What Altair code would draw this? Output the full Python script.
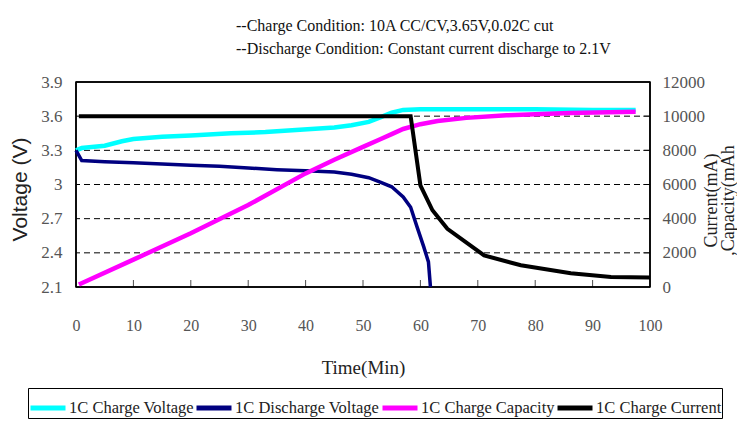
import altair as alt
import pandas as pd

# ---------------- data ----------------
series_names = ["1C Charge Voltage", "1C Discharge Voltage", "1C Charge Capacity", "1C Charge Current"]
series_colors = ["#00FFFF", "#000080", "#FF00FF", "#000000"]

cv_t = [0, 1, 5, 8, 10, 15, 20, 27, 33, 39, 45, 48, 51, 53, 55, 57, 60, 70, 80, 90, 97.5]
cv_v = [3.30, 3.32, 3.34, 3.38, 3.40, 3.42, 3.43, 3.45, 3.46, 3.48, 3.50, 3.52, 3.55, 3.59, 3.63, 3.655, 3.66, 3.66, 3.66, 3.655, 3.655]

dv_t = [0, 1, 5, 10, 15, 20, 25, 30, 35, 40, 45, 48, 51, 53, 55, 57, 58.3, 59.4, 60.6, 61.4, 61.75]
dv_v = [3.30, 3.21, 3.20, 3.19, 3.18, 3.17, 3.16, 3.145, 3.13, 3.12, 3.11, 3.09, 3.06, 3.02, 2.98, 2.89, 2.80, 2.63, 2.45, 2.32, 2.10]

cap_t = [0.5, 10, 20, 30, 40, 45, 50, 53, 55, 57, 60, 63, 68, 75, 86, 97.5]
cap_v = [150, 1600, 3150, 4800, 6650, 7450, 8200, 8650, 8950, 9250, 9530, 9720, 9900, 10050, 10190, 10260]

cur_t = [0.5, 58.3, 60.0, 62.1, 64.7, 71.1, 77.5, 86.2, 93.2, 100]
cur_v = [10000, 10000, 5950, 4490, 3410, 1850, 1270, 800, 590, 550]

x_ticks = [0, 10, 20, 30, 40, 50, 60, 70, 80, 90, 100]
x_inner_ticks = [10, 20, 30, 40, 50, 60, 70, 80, 90]
v_ticks = [2.1, 2.4, 2.7, 3.0, 3.3, 3.6, 3.9]
v_grid = [2.4, 2.7, 3.0, 3.3, 3.6]
i_ticks = [0, 2000, 4000, 6000, 8000, 10000, 12000]
i_inner_ticks = [2000, 4000, 6000, 8000, 10000]

X_MIN, X_MAX = 0, 100
V_MIN, V_MAX = 2.1, 3.9
I_MIN, I_MAX = 0, 12000

title_lines = ["--Charge Condition:  10A CC/CV,3.65V,0.02C cut",
               "--Discharge Condition: Constant current discharge to 2.1V"]

W, H = 574, 205
SERIF = "Liberation Serif"

def df_series(t, v, name):
    return pd.DataFrame({"t": t, "v": v, "series": name})

x_scale = alt.Scale(domain=[X_MIN, X_MAX], nice=False)
x_enc = alt.X("t:Q", scale=x_scale,
              axis=alt.Axis(values=x_ticks, title="Time(Min)", labelFont=SERIF, labelFontSize=16,
                            labelColor="#555555", labelPadding=30, labelFlush=False, labelOverlap=False,
                            ticks=False, domain=False, grid=False,
                            titleFont=SERIF, titleFontSize=19, titleFontWeight="normal", titleColor="#222222",
                            titleY=80, titleBaseline="middle"))

y_left = alt.Y("v:Q", scale=alt.Scale(domain=[V_MIN, V_MAX], nice=False, zero=False),
               axis=alt.Axis(values=v_ticks, format=".1~f", orient="left", title="Voltage (V)",
                             labelFont=SERIF, labelFontSize=17, labelColor="#555555", labelPadding=14,
                             labelOverlap=False, ticks=False, domain=False, grid=False,
                             titleFont="Liberation Sans", titleFontSize=21, titleFontWeight="normal",
                             titleColor="#222222", titleAngle=270, titleX=-56, titleY=107,
                             titleAlign="center", titleBaseline="middle"))

y_right = alt.Y("v:Q", scale=alt.Scale(domain=[I_MIN, I_MAX], nice=False),
                axis=alt.Axis(values=i_ticks, format="d", orient="right",
                              title=["Current(mA)", ",Capacity(mAh"],
                              labelFont=SERIF, labelFontSize=17, labelColor="#555555", labelPadding=12,
                              labelOverlap=False, labelAlign="left", ticks=False, domain=False, grid=False,
                              titleFont=SERIF, titleFontSize=18, titleFontWeight="normal",
                              titleColor="#222222", titleAngle=270, titleX=52, titleY=118,
                              titleAlign="center", titleBaseline="top", titleLineHeight=17))

color_enc = alt.Color("series:N", scale=alt.Scale(domain=series_names, range=series_colors),
                      legend=alt.Legend(title=None, orient="none", legendX=-48, legendY=306,
                                        direction="horizontal", columns=4, symbolType="stroke",
                                        symbolSize=1225, symbolStrokeWidth=5, labelFont=SERIF,
                                        labelFontSize=16.5, labelColor="#222222", labelOffset=1,
                                        columnPadding=-9, strokeColor="black", fillColor="white",
                                        padding=0, labelLimit=300))

grid = alt.Chart(pd.DataFrame({"v": v_grid})).mark_rule(color="black", strokeWidth=1, strokeDash=[6, 4]).encode(y=y_left)

# plot frame: full-width / full-height rules at the domain limits
frame_h = alt.Chart(pd.DataFrame({"v": [V_MIN, V_MAX]})).mark_rule(color="black", strokeWidth=1.5).encode(y=y_left)
frame_v = alt.Chart(pd.DataFrame({"t": [X_MIN, X_MAX]})).mark_rule(color="black", strokeWidth=1.5).encode(x=x_enc)

# inward ticks on the time axis
xt = alt.Chart(pd.DataFrame({"t": x_inner_ticks, "v": [V_MIN] * len(x_inner_ticks)})).mark_tick(
    color="black", thickness=1, size=7, orient="vertical", yOffset=-3.5).encode(x=x_enc, y=y_left)

cv_line = alt.Chart(df_series(cv_t, cv_v, series_names[0])).mark_line(strokeWidth=4.5).encode(x=x_enc, y=y_left, color=color_enc)
dv_line = alt.Chart(df_series(dv_t, dv_v, series_names[1])).mark_line(strokeWidth=3.5).encode(x=x_enc, y=y_left, color=color_enc)

left = alt.layer(grid, frame_h, frame_v, xt, cv_line, dv_line)

cap_line = alt.Chart(df_series(cap_t, cap_v, series_names[2])).mark_line(strokeWidth=4.5).encode(x=x_enc, y=y_right, color=color_enc)
cur_line = alt.Chart(df_series(cur_t, cur_v, series_names[3])).mark_line(strokeWidth=4).encode(x=x_enc, y=y_right, color=color_enc)
rt = alt.Chart(pd.DataFrame({"v": i_inner_ticks, "t": [X_MAX] * len(i_inner_ticks)})).mark_tick(
    color="black", thickness=1, size=7, orient="horizontal", xOffset=-3.5).encode(y=y_right, x=x_enc)

right = alt.layer(cap_line, cur_line, rt)

chart = alt.layer(left, right).resolve_scale(y="independent").properties(
    width=W, height=H,
    background="white",
    title=alt.TitleParams(text=title_lines, anchor="start", frame="group", dx=160, offset=16,
                          font=SERIF, fontSize=16, fontWeight="normal", color="#111111", lineHeight=23),
    autosize=alt.AutoSizeParams(type="none"),
    padding={"left": 68, "top": 74, "right": 87, "bottom": 139},
).configure_view(stroke="black", strokeWidth=1.5)

chart.save("out.html", embed_options={"renderer": "svg", "actions": False})
